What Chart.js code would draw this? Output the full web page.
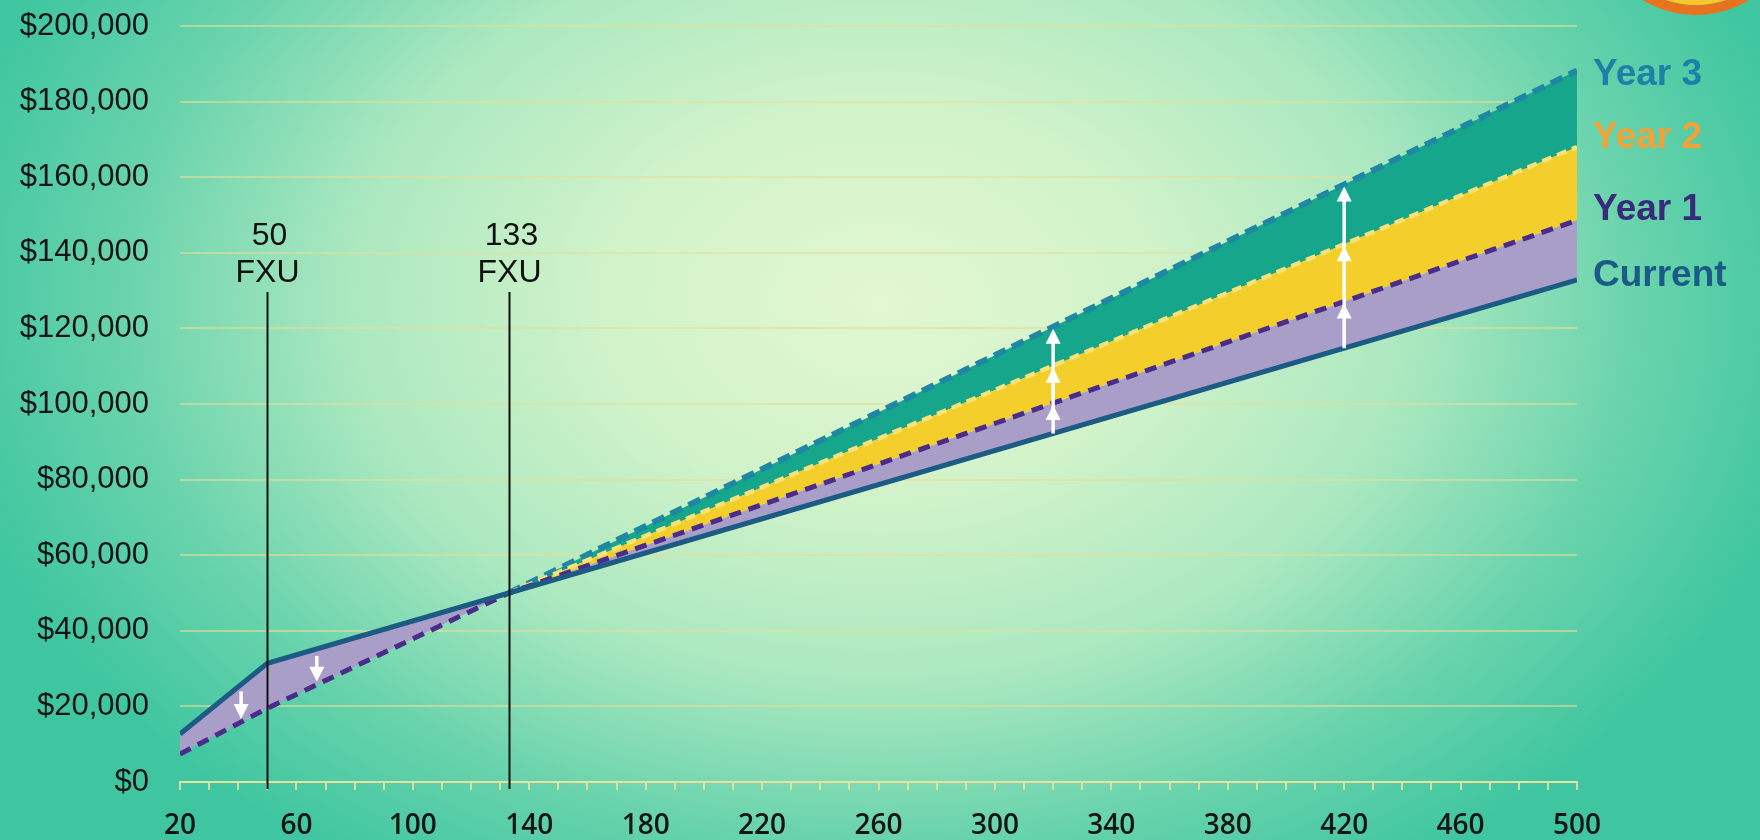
<!DOCTYPE html>
<html>
<head>
<meta charset="utf-8">
<script src="https://cdn.jsdelivr.net/npm/chart.js@4.4.1/dist/chart.umd.min.js"></script>
<style>
  html, body { margin: 0; padding: 0; width: 1760px; height: 840px; overflow: hidden; }
  body {
    background:
      radial-gradient(ellipse 54% 80% at 50% 36%, #e2f7d2 0%, #d2f3ca 28%, #abe8c0 56%, #68d3ac 80%, #3fc6a0 100%);
  }
  #wrap { position: relative; width: 1760px; height: 840px; }
</style>
</head>
<body>
<div id="wrap"><canvas id="chart" width="1760" height="840"></canvas></div>
<script>
// FXU volume (x) and annual amount per series
const fxu     = [20, 50, 133, 500];
const current = [12700, 31400, 50000, 132800];
const year1   = [7400, 19500, 50000, 148600];
const year2   = [null, null, 50000, 168000];
const year3   = [null, null, 50000, 188200];

const seriesNames = ['Current', 'Year 1', 'Year 2', 'Year 3'];
const xTickLabels = [20, 60, 100, 140, 180, 220, 260, 300, 340, 380, 420, 460, 500];
const yTickStep = 20000;
const yMax = 200000;

// Break-even markers and where the change arrows sit
const thresholds = [50, 133];
const thresholdUnit = 'FXU';
const downArrowsAt = [41, 67];
const upArrowsAt = [320, 420];

const toPoints = arr => fxu.map((x, i) => ({ x, y: arr[i] }));

// Linear read of a series between its known points
function valueAt(arr, x) {
  for (let i = 0; i < fxu.length - 1; i++) {
    if (arr[i] == null || arr[i + 1] == null) continue;
    if (x >= fxu[i] && x <= fxu[i + 1]) {
      const t = (x - fxu[i]) / (fxu[i + 1] - fxu[i]);
      return arr[i] + t * (arr[i + 1] - arr[i]);
    }
  }
  return null;
}

function arrowHead(ctx, x, tipY, dir) {
  // dir = -1 points up, +1 points down
  const len = 15, half = 7.5;
  ctx.beginPath();
  ctx.moveTo(x, tipY);
  ctx.lineTo(x - half, tipY - dir * len);
  ctx.lineTo(x + half, tipY - dir * len);
  ctx.closePath();
  ctx.fill();
}

const overlay = {
  id: 'overlay',
  beforeDraw(chart) {
    // orange ring emblem in the top-right corner
    const ctx = chart.ctx;
    ctx.save();
    ctx.lineWidth = 10;
    ctx.strokeStyle = '#e8731f';
    ctx.beginPath(); ctx.arc(1696, -88, 98, 0, Math.PI * 2); ctx.stroke();
    ctx.lineWidth = 9;
    ctx.strokeStyle = '#f8c832';
    ctx.beginPath(); ctx.arc(1696, -88, 88.5, 0, Math.PI * 2); ctx.stroke();
    ctx.restore();
  },
  afterDatasetsDraw(chart) {
    const { ctx, scales: { x, y }, chartArea } = chart;
    ctx.save();

    // vertical marker lines with their captions
    ctx.strokeStyle = '#111';
    ctx.lineWidth = 2;
    ctx.fillStyle = '#111';
    ctx.font = '32px "Liberation Sans", Arial, sans-serif';
    ctx.textAlign = 'center';
    ctx.textBaseline = 'middle';
    thresholds.forEach(v => {
      const px = Math.round(x.getPixelForValue(v)) + 0.5;
      ctx.beginPath();
      ctx.moveTo(px, 292);
      ctx.lineTo(px, chartArea.bottom + 7);
      ctx.stroke();
      ctx.fillText(String(v), px + 2, 236);
      ctx.fillText(thresholdUnit, px, 273);
    });

    // white arrows showing the change between series
    ctx.strokeStyle = '#ffffff';
    ctx.fillStyle = '#ffffff';
    ctx.lineWidth = 3.5;
    downArrowsAt.forEach(v => {
      const px = x.getPixelForValue(v);
      const top = y.getPixelForValue(valueAt(current, v)) + 7;
      const bot = y.getPixelForValue(valueAt(year1, v)) - 3;
      ctx.beginPath(); ctx.moveTo(px, top); ctx.lineTo(px, bot - 10); ctx.stroke();
      arrowHead(ctx, px, bot, 1);
    });
    upArrowsAt.forEach(v => {
      const px = x.getPixelForValue(v);
      const base = y.getPixelForValue(valueAt(current, v));
      const tips = [year1, year2, year3].map(s => y.getPixelForValue(valueAt(s, v)) + 2);
      ctx.beginPath(); ctx.moveTo(px, base); ctx.lineTo(px, tips[2] + 8); ctx.stroke();
      tips.forEach(t => arrowHead(ctx, px, t, -1));
    });
    ctx.restore();
  },
  afterDraw(chart) {
    // series names at the right-hand end of the lines
    const ctx = chart.ctx;
    const labels = [
      { text: seriesNames[3], color: '#1e80a6', y: 75 },
      { text: seriesNames[2], color: '#f2a236', y: 138 },
      { text: seriesNames[1], color: '#3a2a7c', y: 210 },
      { text: seriesNames[0], color: '#1b5a84', y: 276 }
    ];
    ctx.save();
    ctx.font = 'bold 37px "Liberation Sans", Arial, sans-serif';
    ctx.textAlign = 'left';
    ctx.textBaseline = 'middle';
    labels.forEach(l => {
      ctx.fillStyle = l.color;
      ctx.fillText(l.text, 1593, l.y);
    });
    ctx.restore();
  }
};

new Chart(document.getElementById('chart'), {
  type: 'line',
  data: {
    datasets: [
      {
        label: seriesNames[0],
        data: toPoints(current),
        borderColor: '#1b5b84',
        borderWidth: 5,
        pointRadius: 0,
        fill: false,
        tension: 0
      },
      {
        label: seriesNames[1],
        data: toPoints(year1),
        borderColor: '#4b2c8a',
        borderWidth: 5,
        borderDash: [12, 8],
        pointRadius: 0,
        fill: { target: 0 },
        backgroundColor: '#a99ec7',
        tension: 0
      },
      {
        label: seriesNames[2],
        data: toPoints(year2),
        borderColor: '#f8e27a',
        borderWidth: 4.5,
        borderDash: [10, 6],
        pointRadius: 0,
        fill: { target: 1 },
        backgroundColor: '#f4cf2c',
        tension: 0
      },
      {
        label: seriesNames[3],
        data: toPoints(year3),
        borderColor: '#1e88a3',
        borderWidth: 6,
        borderDash: [13, 7],
        pointRadius: 0,
        fill: { target: 2 },
        backgroundColor: '#16a68b',
        tension: 0
      }
    ]
  },
  options: {
    responsive: false,
    animation: false,
    devicePixelRatio: 1,
    layout: { padding: { top: 26, right: 183, left: 0, bottom: 0 } },
    plugins: {
      legend: { display: false },
      tooltip: { enabled: false },
      filler: { drawTime: 'beforeDatasetsDraw' }
    },
    scales: {
      x: {
        type: 'linear',
        min: 20,
        max: 500,
        afterFit: s => { s.height = 58; },
        ticks: {
          stepSize: 10,
          autoSkip: false,
          maxRotation: 0,
          padding: 19,
          color: '#151515',
          font: { family: '"Open Sans", sans-serif', size: 28, weight: 600 },
          callback: v => xTickLabels.includes(v) ? String(v) : ''
        },
        grid: { drawOnChartArea: false, drawTicks: true, tickLength: 8, color: 'rgba(236,226,160,0.85)', lineWidth: 2 },
        border: { display: true, color: 'rgba(236,226,160,0.9)', width: 2 }
      },
      y: {
        min: 0,
        max: yMax,
        afterFit: s => { s.width = 180; },
        ticks: {
          stepSize: yTickStep,
          padding: 0,
          color: '#151515',
          font: { family: '"Liberation Sans", Arial, sans-serif', size: 31 },
          callback: v => '$' + v.toLocaleString('en-US')
        },
        grid: {
          drawTicks: true,
          tickLength: 31,
          tickColor: 'rgba(0,0,0,0)',
          color: 'rgba(230,222,150,0.6)',
          lineWidth: 2
        },
        border: { display: false }
      }
    }
  },
  plugins: [overlay]
});
</script>
</body>
</html>
